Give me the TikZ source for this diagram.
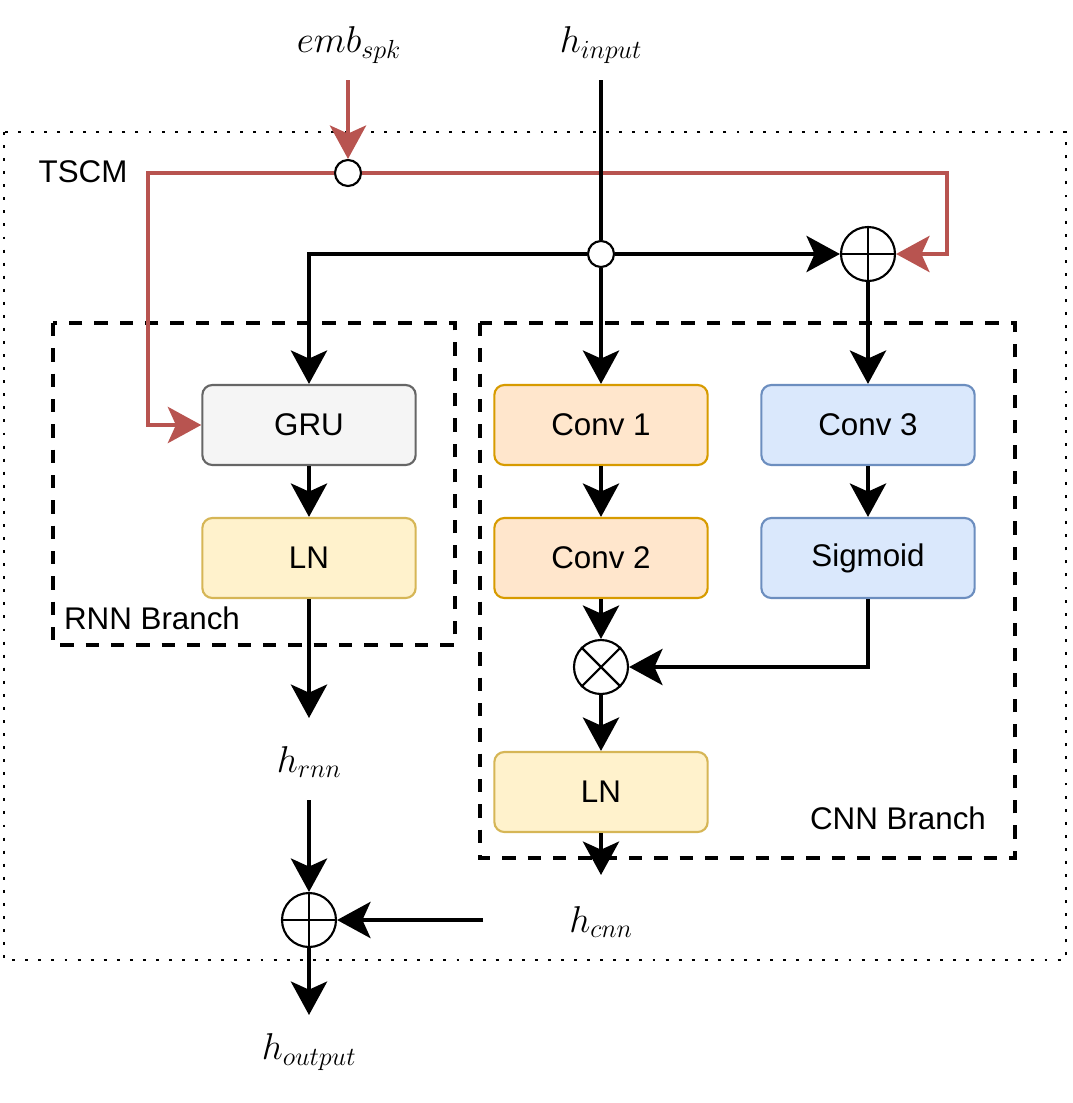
\documentclass[tikz,border=0pt]{standalone}
\usepackage{fix-cm}
\usepackage{fontspec}
\newfontfamily\lsans{Liberation Sans}
\usetikzlibrary{arrows.meta,calc}
\definecolor{redc}{HTML}{B85450}
\definecolor{grayf}{HTML}{F5F5F5}
\definecolor{grays}{HTML}{666666}
\definecolor{yelf}{HTML}{FFF2CC}
\definecolor{yels}{HTML}{D6B656}
\definecolor{orf}{HTML}{FFE6CC}
\definecolor{ors}{HTML}{D79B00}
\definecolor{bluf}{HTML}{DAE8FC}
\definecolor{blus}{HTML}{6C8EBF}
\begin{document}
\begin{tikzpicture}[x=0.75pt,y=-0.75pt,
  box/.style={draw, line width=1.6pt, rounded corners=7.5pt, minimum width=160pt, minimum height=60pt, inner sep=0pt, font=\lsans\fontsize{23.5}{28}\selectfont},
  graybox/.style={box, fill=grayf, draw=grays},
  yelbox/.style={box, fill=yelf, draw=yels},
  orbox/.style={box, fill=orf, draw=ors},
  blubox/.style={box, fill=bluf, draw=blus},
  ln/.style={line width=3.6pt},
  arr/.style={line width=3.6pt, -{Stealth[length=25pt,width=27pt,inset=6pt]}},
  lab/.style={font=\fontsize{28}{33}\selectfont, inner sep=0pt},
  txt/.style={font=\lsans\fontsize{23.5}{28}\selectfont, inner sep=0pt},
  sumc/.style={circle, draw, line width=1.6pt, fill=white, minimum size=40.5pt, inner sep=0pt},
  junc/.style={circle, draw, line width=1.6pt, fill=white, minimum size=19.5pt, inner sep=0pt},
  branch/.style={line width=3.3pt, dash pattern=on 10pt off 9pt},
]
\useasboundingbox (0,0) rectangle (1072,1103);

% outer dotted frame
\draw[line width=2.2pt, dash pattern=on 2.2pt off 7.6pt] (4,132) rectangle (1066,960);
\node[txt] (tscm) at (83,172) {TSCM};

% branch frames
\draw[branch] (53,323) rectangle (455,645);
\draw[branch] (480,323) rectangle (1015,858);
\node[txt] (rnnlab) at (152,618) {RNN Branch};
\node[txt] (cnnlab) at (898,818) {CNN Branch};

% boxes
\node[graybox] (gru) at (309,425) {GRU};
\node[yelbox] (lnr) at (309,558) {LN};
\node[orbox] (c1) at (601,425) {Conv 1};
\node[orbox] (c2) at (601,558) {Conv 2};
\node[blubox] (c3) at (868,425) {Conv 3};
\node[blubox] (sig) at (868,558) {Sigmoid};
\node[yelbox] (lnc) at (601,792) {LN};

% labels
\node[lab] (emb) at (349,45) {$emb_{spk}$};
\node[lab] (hin) at (601,45) {$h_{input}$};
\node[lab] (hrnn) at (309,762) {$h_{rnn}$};
\node[lab] (hcnn) at (601,922) {$h_{cnn}$};
\node[lab] (hout) at (309,1052) {$h_{output}$};

% circles
\node[junc] (rj) at (348,173) {};
\node[junc] (bj) at (601,254) {};
\node[sumc] (op1) at (868,254) {};
\node[sumc] (ox) at (601,667) {};
\node[sumc] (op2) at (309,920) {};
\draw[line width=1.6pt] (op1.north)--(op1.south) (op1.west)--(op1.east);
\draw[line width=1.6pt] (op2.north)--(op2.south) (op2.west)--(op2.east);
\draw[line width=1.6pt] (ox.north west)--(ox.south east) (ox.north east)--(ox.south west);

% coordinates
\coordinate (embs) at (348,80);
\coordinate (hins) at (601,80);
\coordinate (rl) at (148,300);
\coordinate (rr) at (947,210);
\coordinate (rnnend) at (309,718);
\coordinate (rnnst) at (309,800);
\coordinate (cnnend) at (601,875);
\coordinate (cnnst) at (483,920);
\coordinate (outend) at (309,1015);

% red connectors
\draw[arr, redc] (embs) -- (rj.north);
\draw[arr, redc] (rj.west) -| (rl) |- (gru.west);
\draw[arr, redc] (rj.east) -| (rr) |- (op1.east);

% black connectors
\draw[ln] (hins) -- (bj.north);
\draw[arr] (bj.south) -- (c1.north);
\draw[arr] (bj.west) -| (gru.north);
\draw[arr] (bj.east) -- (op1.west);
\draw[arr] (op1.south) -- (c3.north);
\draw[arr] (gru.south) -- (lnr.north);
\draw[arr] (lnr.south) -- (rnnend);
\draw[arr] (rnnst) -- (op2.north);
\draw[arr] (c1.south) -- (c2.north);
\draw[arr] (c3.south) -- (sig.north);
\draw[arr] (c2.south) -- (ox.north);
\draw[arr] (sig.south) |- (ox.east);
\draw[arr] (ox.south) -- (lnc.north);
\draw[arr] (lnc.south) -- (cnnend);
\draw[arr] (cnnst) -- (op2.east);
\draw[arr] (op2.south) -- (outend);
\end{tikzpicture}
\end{document}
